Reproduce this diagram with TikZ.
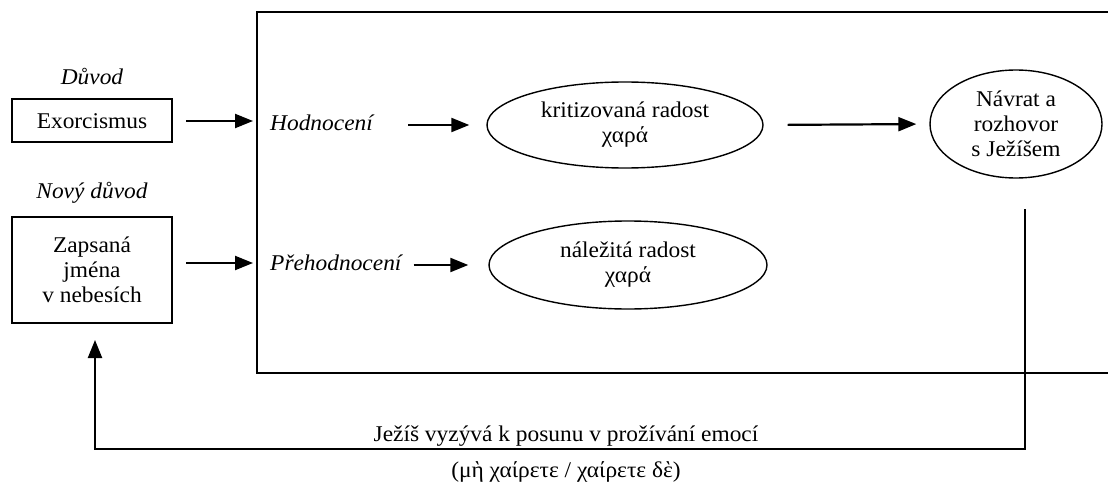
\documentclass[tikz,border=0pt]{standalone}
\usepackage{fontspec}
\setmainfont{Liberation Serif}[FakeStretch=1.04]
\usetikzlibrary{arrows.meta,shapes.geometric,calc}
\begin{document}
\begin{tikzpicture}[x=1pt,y=-1pt]
\tikzset{
  base/.style={font=\fontsize{22.5}{25}\selectfont, align=center},
  box/.style={base, draw, line width=2pt, minimum width=160pt, inner sep=0pt},
  oval/.style={base, draw, ellipse, line width=1.4pt, inner sep=0pt},
  lab/.style={font=\fontsize{22.5}{25}\selectfont\itshape, inner sep=0pt},
  arr/.style={-{Triangle[length=18pt,width=14pt]}, line width=2.2pt},
  frame/.style={line width=1.8pt},
}
\useasboundingbox (0,0) rectangle (1108,484);
% outer frame (clipped at right edge)
\draw[frame] (1112,12) -- (257,12) -- (257,373) -- (1112,373);

\node[lab] (duvod) at (92,77) {Důvod};
\node[box, minimum height=43pt] (exo) at (92,121) {Exorcismus};
\node[lab] (novy) at (92,193) {Nový důvod};
\node[box, minimum height=106pt] (zap) at (92,270) {Zapsaná\\jména\\v nebesích};

\node[lab, anchor=west] (hod) at (270,123) {Hodnocení};
\node[lab, anchor=west] (preh) at (270,263) {Přehodnocení};

\node[oval, minimum width=276pt, minimum height=86pt] (e1) at (625,125) {kritizovaná radost\\χαρά};
\node[oval, minimum width=278pt, minimum height=88pt] (e2) at (628,265) {náležitá radost\\χαρά};
\node[oval, minimum width=172pt, minimum height=108pt] (e3) at (1016,124) {Návrat a\\rozhovor\\s Ježíšem};

\draw[arr, shorten <=13pt, shorten >=17pt] (exo.east) -- (exo.east -| hod.west);
\draw[arr, shorten <=13pt, shorten >=17pt] (zap.east |- preh.west) -- (preh.west);
\draw[arr, shorten <=35pt, shorten >=17pt] (hod.east |- e1.west) -- (e1.west);
\draw[arr, shorten <=12pt, shorten >=20pt] (preh.east |- e2.west) -- (e2.west);
\draw[arr, shorten <=24pt, shorten >=13pt] (e1.east) -- (e3.west);

\coordinate (r1) at (1025,209);
\coordinate (r2) at (95,449);
\draw[arr, shorten >=16pt] (r1) |- (r2) -- (r2 |- zap.south);

\node[base] (lbl) at (566,436) {Ježíš vyzývá k posunu v prožívání emocí};
\node[base] (gr) at (566,472) {(μὴ χαίρετε / χαίρετε δὲ)};
\end{tikzpicture}
\end{document}
